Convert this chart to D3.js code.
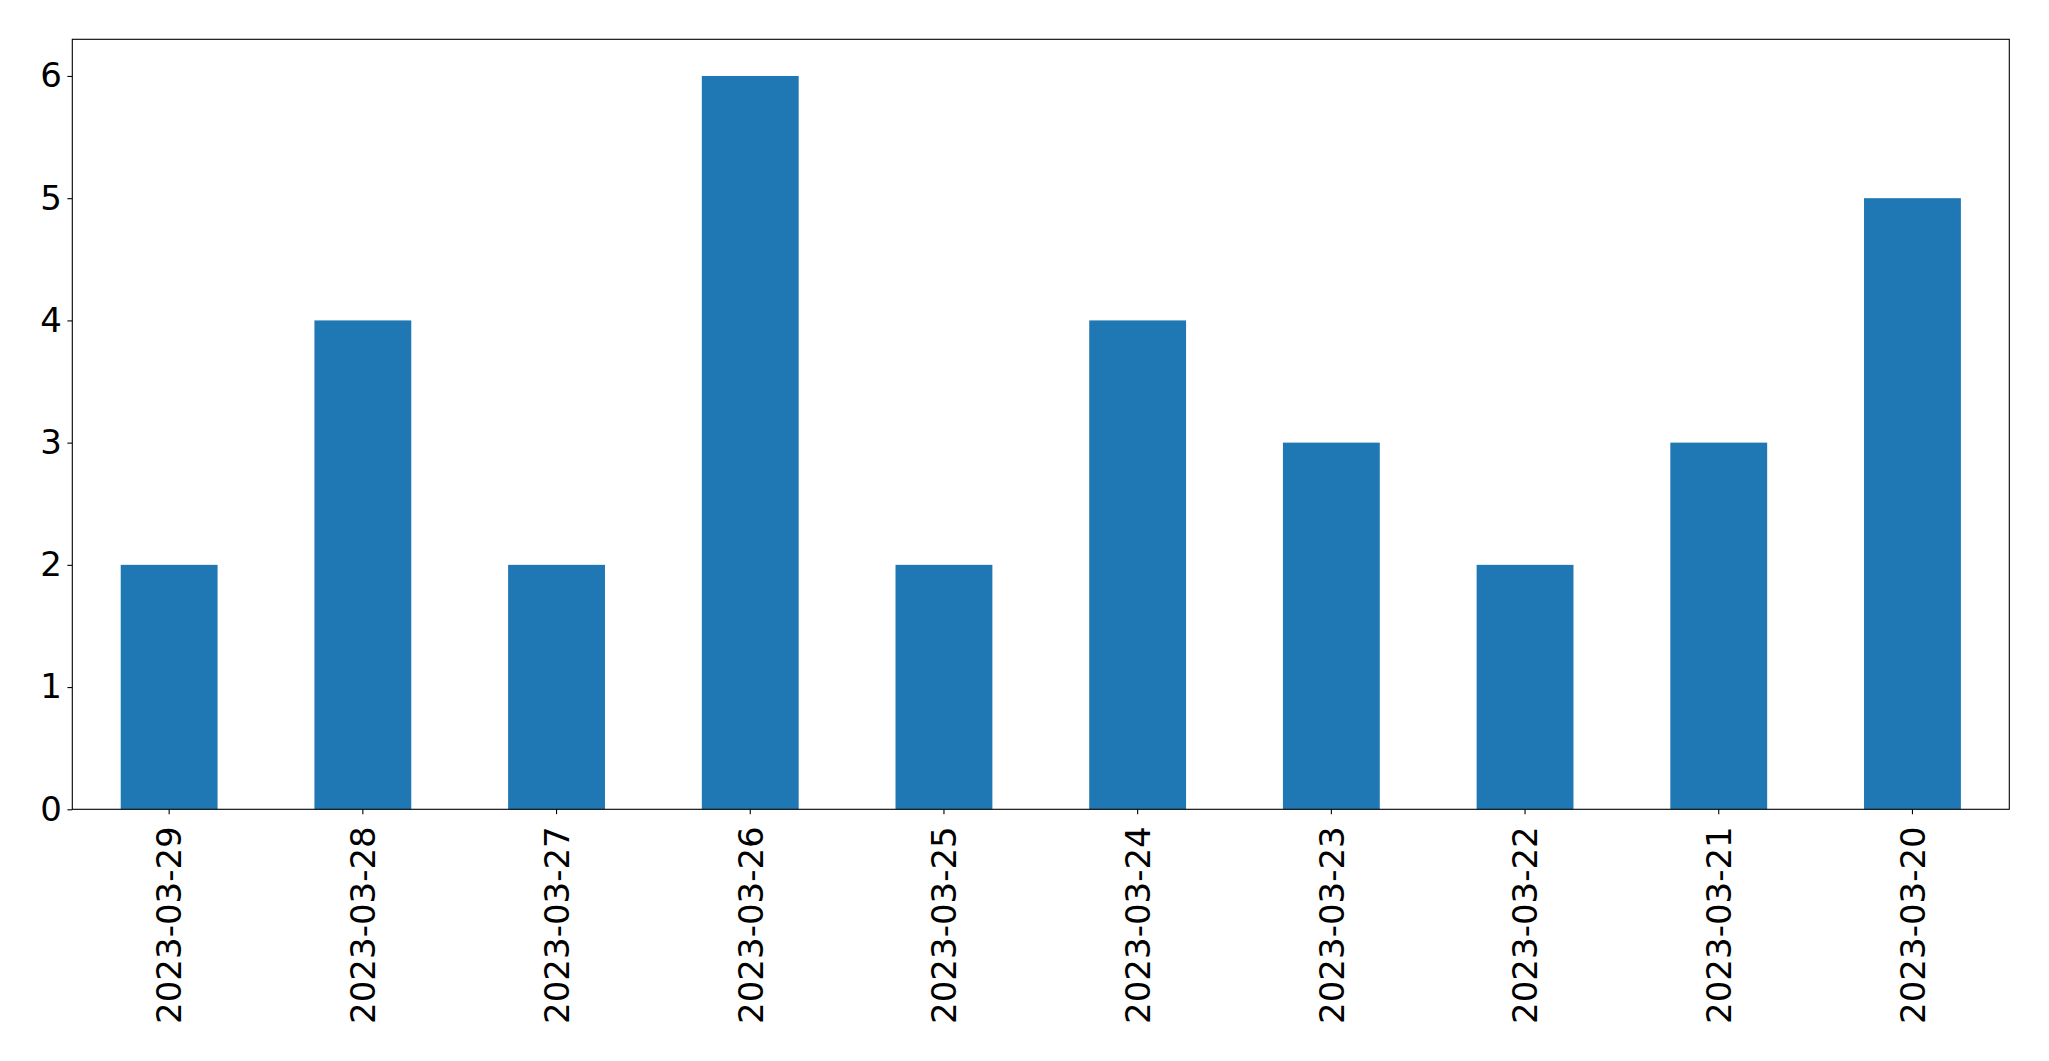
<!DOCTYPE html>
<html>
<head>
<meta charset="utf-8">
<script src="https://cdn.jsdelivr.net/npm/d3@7"></script>
<style>
  html, body { margin: 0; padding: 0; background: #fff; }
  svg { display: block; }
  text { font-family: "DejaVu Sans", sans-serif; fill: #000; }
</style>
</head>
<body>
<script>
const categories = ["2023-03-29","2023-03-28","2023-03-27","2023-03-26","2023-03-25","2023-03-24","2023-03-23","2023-03-22","2023-03-21","2023-03-20"];
const counts = [2, 4, 2, 6, 2, 4, 3, 2, 3, 5];
const yTicks = [0, 1, 2, 3, 4, 5, 6];

const W = 2049, H = 1061;
const mLeft = 72.3, mRight = 2009.3, mTop = 39.3, mBottom = 809.3;

const svg = d3.select("body").append("svg").attr("width", W).attr("height", H);

const x = d3.scaleBand().domain(categories).range([mLeft, mRight]).paddingInner(0.5).paddingOuter(0.25);
const y = d3.scaleLinear().domain([0, 6.3]).range([mBottom, mTop]);

svg.append("g").selectAll("rect").data(categories).join("rect")
  .attr("x", d => x(d))
  .attr("width", x.bandwidth())
  .attr("y", (d, i) => y(counts[i]))
  .attr("height", (d, i) => y(0) - y(counts[i]))
  .attr("fill", "#1f77b4");

// frame
svg.append("rect").attr("x", mLeft).attr("y", mTop).attr("width", mRight - mLeft).attr("height", mBottom - mTop)
  .attr("fill", "none").attr("stroke", "#000").attr("stroke-width", 1.1);

// y axis
const yAxis = d3.axisLeft(y).tickValues(yTicks).tickFormat(d3.format("d")).tickSize(4.9).tickPadding(5.5);
const gy = svg.append("g").attr("transform", `translate(${mLeft},0)`).call(yAxis);
gy.select(".domain").remove();
gy.selectAll(".tick line").attr("stroke", "#000").attr("stroke-width", 1.1);
gy.selectAll(".tick text").attr("font-size", "34px").attr("font-family", "DejaVu Sans").attr("fill", "#000");

// x axis
const xAxis = d3.axisBottom(x).tickSize(4.9).tickPadding(4.9);
const gx = svg.append("g").attr("transform", `translate(0,${mBottom})`).call(xAxis);
gx.select(".domain").remove();
gx.selectAll(".tick line").attr("stroke", "#000").attr("stroke-width", 1.1);
gx.selectAll(".tick text")
  .attr("font-size", "34px").attr("font-family", "DejaVu Sans").attr("fill", "#000")
  .attr("text-anchor", "end")
  .attr("transform", "rotate(-90)")
  .attr("x", -17)
  .attr("y", 0)
  .attr("dy", "0.36em");
</script>
</body>
</html>
